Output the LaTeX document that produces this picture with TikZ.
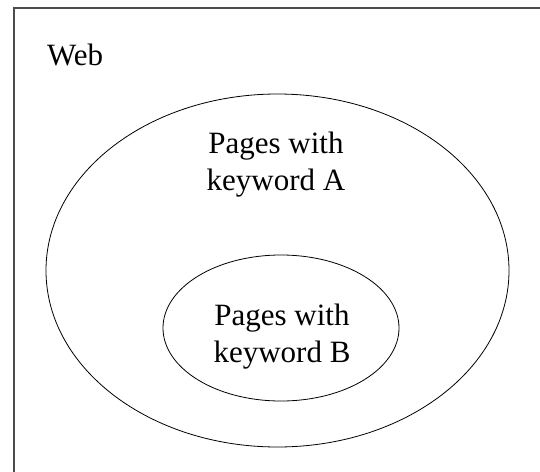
\documentclass[tikz,border=0pt]{standalone}
\usepackage{fontspec}
\setmainfont{Liberation Serif}
\begin{document}
\begin{tikzpicture}[x=1pt,y=-1pt,
  label/.style={font=\fontsize{31}{37}\selectfont,align=center,inner sep=0pt}]
  \useasboundingbox (0,0) rectangle (540,471);
  \clip (0,0) rectangle (540,471);
  \draw[color=black!70,line width=1.2pt] (14,8) rectangle (600,520);
  \node[label,anchor=base west] (web) at (47,65) {Web};

  \draw[line width=0.8pt] (277.5,270.5) ellipse (231.5 and 176.5);
  \node[label] (pagesA) at (276,165) {Pages with\\keyword A};

  \draw[line width=0.8pt] (281,328) ellipse (118 and 73);
  \node[label] (pagesB) at (282,337) {Pages with\\keyword B};
\end{tikzpicture}
\end{document}
